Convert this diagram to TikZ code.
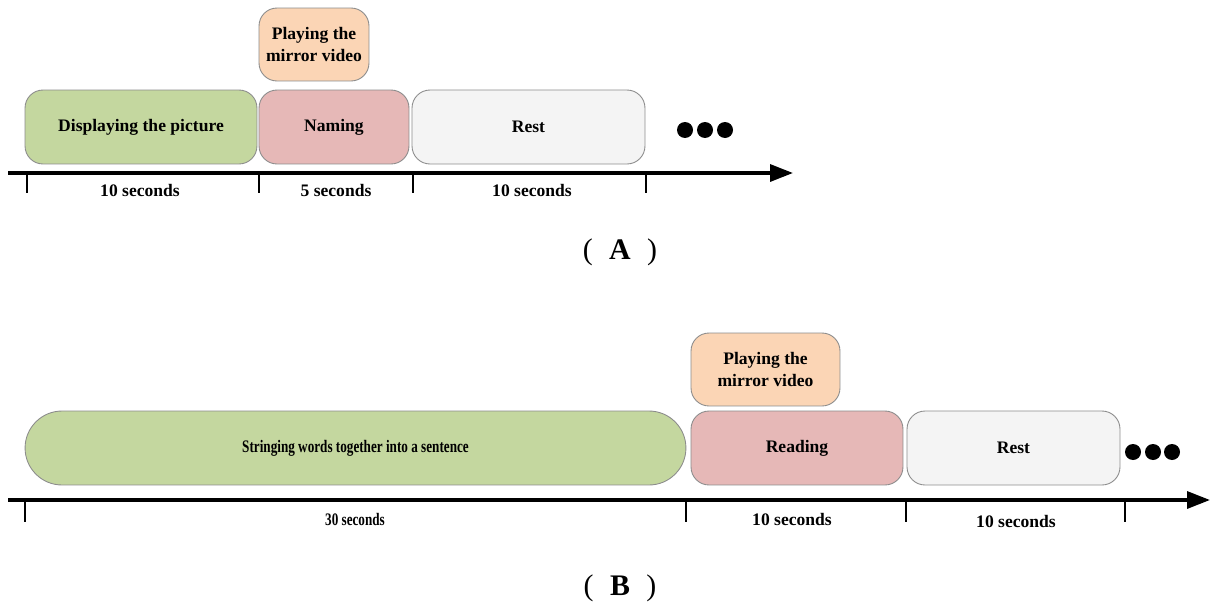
\documentclass[tikz,border=0pt]{standalone}
\usepackage{fontspec}
\setmainfont{Liberation Serif}
\usetikzlibrary{arrows.meta}

\definecolor{showgreen}{HTML}{C4D79F}
\definecolor{namered}{HTML}{E6B8B7}
\definecolor{mirrororange}{HTML}{FBD5B5}
\definecolor{restgray}{HTML}{F4F4F4}
\definecolor{edgegray}{HTML}{8C8C8C}

\begin{document}
\begin{tikzpicture}[x=0.02cm, y=-0.02cm,
  phase/.style={draw=edgegray, line width=0.5pt, rounded corners=0.36cm,
    align=center, font=\bfseries\fontsize{10}{12.5}\selectfont,
    minimum height=1.48cm, inner sep=2pt},
  timeaxis/.style={line width=1.9pt, -{Triangle[length=0.46cm, width=0.34cm]}},
  tickline/.style={line width=1pt},
  dur/.style={font=\bfseries\fontsize{10}{12}\selectfont, inner sep=0pt},
  tag/.style={font=\bfseries\fontsize{17}{20}\selectfont, inner sep=0pt},
  dot/.style={fill=black},
]
\useasboundingbox (0,0) rectangle (1210,605);

% (A)
\node[phase, fill=showgreen, minimum width=4.64cm] (ashow) at (141,127) {Displaying the picture};
\node[phase, fill=namered, minimum width=3.0cm] (aname) at (334,127) {Naming};
\node[phase, fill=restgray, minimum width=4.66cm] (arest) at (528.5,127) {Rest};
\node[phase, fill=mirrororange, minimum width=2.2cm, minimum height=1.46cm] (amirror) at (314,44.5) {Playing the\\mirror video};
\foreach \i/\x in {1/685,2/705,3/725}
  \fill[dot] (\x,130) circle (0.16cm);

\coordinate (astart) at (8,173);
\coordinate (aend) at (793,173);
\draw[timeaxis] (astart) -- (aend);
\foreach \t/\x in {t0/27,t1/259,t2/413,t3/646} {
  \coordinate (a\t) at (\x,173);
  \draw[tickline] (a\t) -- ++(0,20);
}
\node[dur] (adur1) at (140,190) {10 seconds};
\node[dur] (adur2) at (336,190) {5 seconds};
\node[dur] (adur3) at (532,190) {10 seconds};
\node[tag] (atag) at (620,252) {{\mdseries(}\hspace{0.55em}A\hspace{0.55em}{\mdseries)}};

% (B)
\node[phase, fill=showgreen, rounded corners=0.74cm, minimum width=13.22cm] (bshow) at (355.5,448)
  {\scalebox{0.75}[1]{Stringing words together into a sentence}};
\node[phase, fill=namered, minimum width=4.24cm] (bread) at (797,448) {Reading};
\node[phase, fill=restgray, minimum width=4.26cm] (brest) at (1013.5,448) {Rest};
\node[phase, fill=mirrororange, minimum width=2.98cm, minimum height=1.46cm] (bmirror) at (765.5,369.5) {Playing the\\mirror video};
\foreach \i/\x in {1/1133,2/1153,3/1172}
  \fill[dot] (\x,452) circle (0.16cm);

\coordinate (bstart) at (8,500);
\coordinate (bend) at (1210,500);
\draw[timeaxis] (bstart) -- (bend);
\foreach \t/\x in {t0/25,t1/686,t2/906,t3/1125} {
  \coordinate (b\t) at (\x,500);
  \draw[tickline] (b\t) -- ++(0,22);
}
\node[dur] (bdur1) at (355,519) {\scalebox{0.75}[1]{30 seconds}};
\node[dur] (bdur2) at (792,519) {10 seconds};
\node[dur] (bdur3) at (1016,521) {10 seconds};
\node[tag] (btag) at (620,588) {{\mdseries(}\hspace{0.55em}B\hspace{0.55em}{\mdseries)}};
\end{tikzpicture}
\end{document}
